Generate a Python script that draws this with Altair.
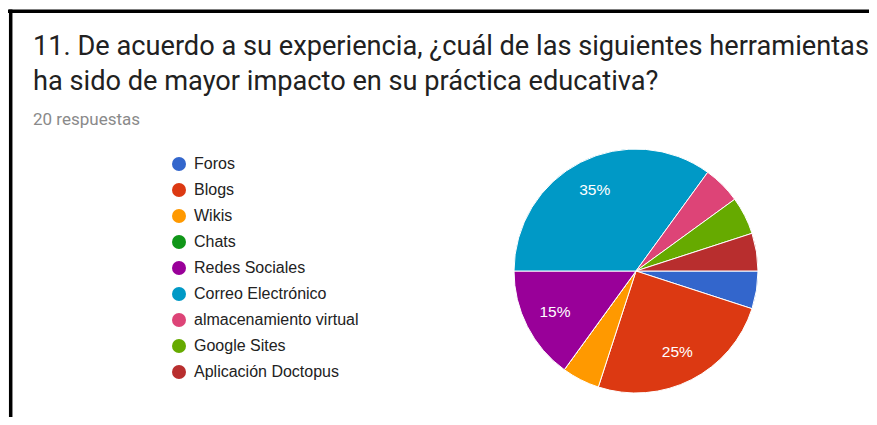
import math
import altair as alt
import pandas as pd

categories = ["Foros", "Blogs", "Wikis", "Chats", "Redes Sociales",
              "Correo Electrónico", "almacenamiento virtual", "Google Sites",
              "Aplicación Doctopus"]
percentages = [5, 25, 5, 0, 15, 35, 5, 5, 5]
colors = ["#3366cc", "#dc3912", "#ff9900", "#109618", "#990099",
          "#0099c6", "#dd4477", "#66aa00", "#b82e2e"]

title_line1 = "11. De acuerdo a su experiencia, ¿cuál de las siguientes herramientas"
title_line2 = "ha sido de mayor impacto en su práctica educativa?"
subtitle = "20 respuestas"

df = pd.DataFrame({
    "categoria": categories,
    "valor": percentages,
    "orden": list(range(len(categories))),
})
df["etiqueta"] = [f"{v}%" if v >= 10 else "" for v in percentages]

W, H = 861, 409
CX, CY, R = 628, 263, 122
start = math.pi / 2
theta_scale = alt.Scale(range=[start, start + 2 * math.pi])

base = alt.Chart(df).encode(
    theta=alt.Theta("valor:Q", stack=True, scale=theta_scale),
    order=alt.Order("orden:Q"),
)

pie = base.mark_arc(outerRadius=R, stroke="white", strokeWidth=1).encode(
    x=alt.value(CX),
    y=alt.value(CY),
    color=alt.Color(
        "categoria:N",
        scale=alt.Scale(domain=categories, range=colors),
        sort=categories,
        legend=alt.Legend(
            title=None,
            orient="none",
            legendX=163,
            legendY=148,
            symbolType="circle",
            symbolSize=196,
            symbolStrokeWidth=0,
            labelFont="Liberation Sans",
            labelFontSize=16,
            labelColor="#222222",
            labelOffset=7,
            rowPadding=10,
            labelLimit=400,
        ),
    ),
)

labels = base.mark_text(radius=91, font="Liberation Sans", fontSize=15.5,
                        color="white").encode(
    x=alt.value(CX),
    y=alt.value(CY),
    text="etiqueta:N",
)


def text_layer(t, x, y, size, color, font):
    return alt.Chart(pd.DataFrame({"t": [t]})).mark_text(
        align="left", baseline="alphabetic", font=font, fontSize=size,
        color=color,
    ).encode(x=alt.value(x), y=alt.value(y), text="t:N")


t1 = text_layer(title_line1, 25, 47, 27.2, "#212121", "Roboto")
t2 = text_layer(title_line2, 25, 82, 27.2, "#212121", "Roboto")
t3 = text_layer(subtitle, 25, 117, 17, "#8a8a8a", "Roboto")

border_top = alt.Chart(pd.DataFrame({"k": [0]})).mark_rule(
    color="black", strokeWidth=3.5).encode(
    x=alt.value(0), x2=alt.value(W), y=alt.value(3.3))
border_left = alt.Chart(pd.DataFrame({"k": [0]})).mark_rule(
    color="black", strokeWidth=3.5).encode(
    x=alt.value(2.7), y=alt.value(1.6), y2=alt.value(H))

chart = alt.layer(pie, labels, t1, t2, t3, border_top, border_left).properties(
    width=W, height=H,
    autosize=alt.AutoSizeParams(type="none"),
    padding=0,
    background="white",
).configure_view(stroke=None)

chart.save("out.html", embed_options={"renderer": "svg", "actions": False})
